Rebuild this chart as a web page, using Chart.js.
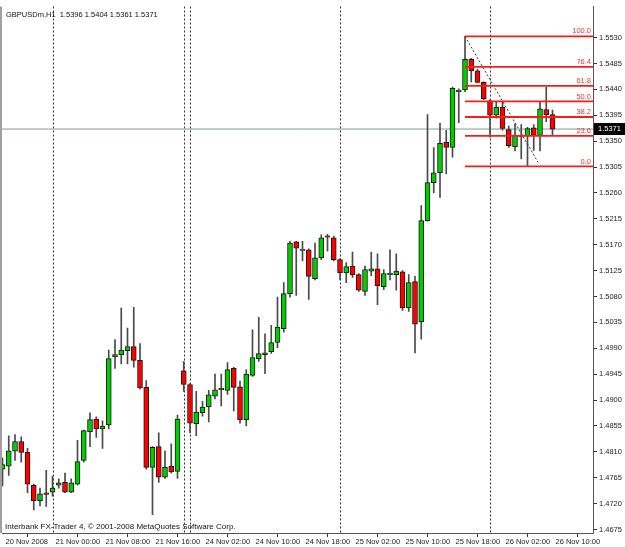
<!DOCTYPE html>
<html><head><meta charset="utf-8">
<script src="https://cdn.jsdelivr.net/npm/chart.js@4.4.0/dist/chart.umd.min.js"></script>
<style>html,body{margin:0;padding:0;background:#fff;overflow:hidden}canvas{display:block}</style>
</head><body>
<canvas id="c" width="625" height="547"></canvas>
<script>
const symbolTitle = 'GBPUSDm,H1  1.5396 1.5404 1.5361 1.5371';
const copyrightText = 'Interbank FX-Trader 4, \u00a9 2001-2008 MetaQuotes Software Corp.';

const opens = [1.4780,1.4785,1.4811,1.4828,1.4809,1.4752,1.4725,1.4737,1.4740,1.4752,
1.4757,1.4740,1.4754,1.4795,1.4845,1.4867,1.4850,1.4857,1.4975,1.4979,
1.4986,1.4993,1.4969,1.4922,1.4783,1.4819,1.4766,1.4785,1.4776,1.4951,
1.4927,1.4859,1.4878,1.4888,1.4907,1.4918,1.4917,1.4955,1.4923,1.4866,
1.4943,1.4972,1.4979,1.4984,1.5000,1.5024,1.5085,1.5175,1.5160,1.5161,
1.5111,1.5147,1.5184,1.5182,1.5144,1.5121,1.5133,1.5118,1.5089,1.5124,
1.5128,1.5097,1.5118,1.5118,1.5123,1.5060,1.5106,1.5036,1.5212,1.5278,
1.5295,1.5348,1.5339,1.5436,1.5439,1.5492,1.5472,1.5452,1.5420,1.5395,
1.5409,1.5370,1.5340,1.5358,1.5359,1.5373,1.5360,1.5405,1.5396];

const highs = [1.4799,1.4838,1.4840,1.4836,1.4816,1.4754,1.4747,1.4778,1.4768,1.4763,
1.4773,1.4763,1.4830,1.4848,1.4878,1.4871,1.4864,1.4987,1.5005,1.5060,
1.5025,1.5061,1.4998,1.4934,1.4819,1.4843,1.4812,1.4824,1.4874,1.4967,
1.4929,1.4915,1.4898,1.4917,1.4945,1.4945,1.4965,1.4957,1.4933,1.4953,
1.5022,1.5044,1.5015,1.5030,1.5079,1.5104,1.5176,1.5176,1.5176,1.5163,
1.5173,1.5187,1.5188,1.5185,1.5146,1.5139,1.5157,1.5120,1.5133,1.5157,
1.5154,1.5127,1.5161,1.5154,1.5125,1.5118,1.5115,1.5238,1.5396,1.5339,
1.5381,1.5369,1.5444,1.5441,1.5532,1.5494,1.5475,1.5453,1.5422,1.5418,
1.5418,1.5376,1.5380,1.5379,1.5374,1.5379,1.5418,1.5444,1.5404];

const lows = [1.4751,1.4769,1.4795,1.4792,1.4739,1.4709,1.4716,1.4715,1.4733,1.4747,
1.4739,1.4739,1.4752,1.4792,1.4819,1.4835,1.4816,1.4850,1.4955,1.4963,
1.4963,1.4957,1.4919,1.4780,1.4701,1.4757,1.4764,1.4773,1.4764,1.4915,
1.4843,1.4838,1.4872,1.4862,1.4902,1.4890,1.4910,1.4881,1.4860,1.4855,
1.4941,1.4967,1.4946,1.4981,1.4991,1.5018,1.5079,1.5082,1.5142,1.5075,
1.5109,1.5144,1.5159,1.5142,1.5109,1.5104,1.5113,1.5089,1.5082,1.5116,
1.5066,1.5092,1.5109,1.5091,1.5056,1.5054,1.4982,1.5006,1.5211,1.5260,
1.5252,1.5293,1.5322,1.5382,1.5436,1.5453,1.5451,1.5422,1.5357,1.5390,
1.5369,1.5339,1.5333,1.5319,1.5306,1.5334,1.5333,1.5384,1.5361];

const closes = [1.4788,1.4812,1.4828,1.4809,1.4754,1.4725,1.4737,1.4736,1.4747,1.4756,
1.4740,1.4756,1.4793,1.4847,1.4866,1.4850,1.4855,1.4972,1.4979,1.4987,
1.4993,1.4969,1.4921,1.4783,1.4818,1.4766,1.4783,1.4775,1.4867,1.4927,
1.4860,1.4879,1.4888,1.4909,1.4918,1.4919,1.4953,1.4922,1.4866,1.4945,
1.4974,1.4981,1.4982,1.5000,1.5027,1.5085,1.5173,1.5164,1.5161,1.5115,
1.5147,1.5182,1.5183,1.5144,1.5121,1.5132,1.5118,1.5091,1.5127,1.5128,
1.5099,1.5120,1.5119,1.5124,1.5060,1.5104,1.5032,1.5212,1.5278,1.5295,
1.5346,1.5339,1.5442,1.5438,1.5492,1.5472,1.5452,1.5424,1.5395,1.5409,
1.5372,1.5342,1.5360,1.5359,1.5372,1.5360,1.5406,1.5396,1.5371];

const xTickBars = [0,8,16,24,32,40,48,56,64,72,80,88];
const xTickLabels = ['20 Nov 2008','21 Nov 00:00','21 Nov 08:00','21 Nov 16:00','24 Nov 02:00','24 Nov 10:00',
  '24 Nov 18:00','25 Nov 02:00','25 Nov 10:00','25 Nov 18:00','26 Nov 02:00','26 Nov 10:00'];
const yTickValues = [1.4675,1.4720,1.4765,1.4810,1.4855,1.4900,1.4945,1.4990,1.5035,1.5080,
  1.5125,1.5170,1.5215,1.5260,1.5305,1.5350,1.5395,1.5440,1.5485,1.5530];
const separatorBars = [8,29,30,54,78];

const fibLabels = ['100.0','76.4','61.8','50.0','38.2','23.6','0.0'];
const fibPrices = [1.5532,1.5479,1.5446,1.5419,1.5392,1.5359,1.5306];
const fibStartBar = 74;
const trendBars = [74, 85.7];
const trendPrices = [1.5532, 1.5313];
const lastPrice = 1.5371;

const X_MIN = -0.08, X_MAX = 94.48;
const Y_MIN = 1.4669, Y_MAX = 1.5584;

Chart.defaults.font.family = "'Liberation Sans', Arial, sans-serif";
Chart.defaults.font.size = 7.5;

const datasets = [];
fibPrices.forEach((p, k) => {
  datasets.push({ type:'line', label:'fib'+fibLabels[k], data:[{x:fibStartBar,y:p},{x:X_MAX,y:p}],
    borderColor:'#ff1a1a', borderWidth:1.8, pointRadius:0, order:0 });
});
datasets.push({ type:'line', label:'trend', data: trendBars.map((b,k)=>({x:b,y:trendPrices[k]})),
  borderColor:'#333', borderWidth:1, borderDash:[2,2], pointRadius:0, order:1 });
datasets.push({ type:'bar', label:'body', data: opens.map((o,i)=>({x:i, y:[o, closes[i]]})),
  backgroundColor: c => (closes[c.dataIndex] >= opens[c.dataIndex] ? '#00cc00' : '#ff0000'),
  borderColor:'#1a1a1a', borderWidth:1, borderSkipped:false, barThickness:5, minBarLength:1.5,
  grouped:false, order:2 });
datasets.push({ type:'bar', label:'wick', data: lows.map((l,i)=>({x:i, y:[l, highs[i]]})),
  backgroundColor:'#4a4a4a', borderWidth:0, barThickness:1, grouped:false, order:3 });
datasets.push({ type:'line', label:'bid', data:[{x:X_MIN,y:lastPrice},{x:X_MAX,y:lastPrice}],
  borderColor:'#7f9b9b', borderWidth:1, pointRadius:0, order:4 });

const decor = {
  id:'decor',
  beforeDatasetsDraw(chart){
    const {ctx, chartArea:a, scales:{x}} = chart;
    ctx.save();
    ctx.fillStyle = '#a0a0a0';
    ctx.fillRect(0, a.top, a.left, a.bottom - a.top);
    ctx.strokeStyle = '#333'; ctx.lineWidth = 1; ctx.setLineDash([2,2]);
    separatorBars.forEach(b => {
      const px = Math.round(x.getPixelForValue(b)) + 0.5;
      ctx.beginPath(); ctx.moveTo(px, a.top); ctx.lineTo(px, a.bottom); ctx.stroke();
    });
    ctx.restore();
  },
  afterDatasetsDraw(chart){
    const {ctx, chartArea:a, scales:{y}} = chart;
    ctx.save();
    ctx.font = "7.5px 'Liberation Sans', Arial, sans-serif";
    ctx.fillStyle = '#ff3030'; ctx.textAlign = 'right'; ctx.textBaseline = 'middle';
    fibPrices.forEach((p,k) => { ctx.fillText(fibLabels[k], a.right - 2, y.getPixelForValue(p) - 5); });
    ctx.fillStyle = '#111'; ctx.textAlign = 'left';
    ctx.font = "7.5px 'Liberation Sans', Arial, sans-serif";
    ctx.fillText(symbolTitle, a.left + 4, a.top + 8);
    ctx.font = "8px 'Liberation Sans', Arial, sans-serif";
    ctx.fillText(copyrightText, a.left + 3, a.bottom - 6);
    ctx.restore();
  },
  afterDraw(chart){
    const {ctx, chartArea:a, scales:{y}} = chart;
    const py = Math.round(y.getPixelForValue(lastPrice));
    ctx.save();
    ctx.fillStyle = '#000';
    ctx.fillRect(a.right + 1, py - 6, chart.width - a.right - 1, 12);
    ctx.fillStyle = '#fff'; ctx.textAlign = 'left'; ctx.textBaseline = 'middle';
    ctx.font = "7.5px 'Liberation Sans', Arial, sans-serif";
    ctx.fillText(lastPrice.toFixed(4), a.right + 5, py);
    ctx.restore();
  }
};

new Chart(document.getElementById('c'), {
  type:'bar',
  data:{ datasets },
  options:{
    responsive:false, animation:false, devicePixelRatio:1,
    layout:{ padding:{left:2, top:0, right:0, bottom:0} },
    plugins:{ legend:{display:false}, tooltip:{enabled:false}, title:{display:false} },
    scales:{
      x:{ type:'linear', min:X_MIN, max:X_MAX, offset:false, bounds:'data',
        afterBuildTicks: s => { s.ticks = xTickBars.map(v => ({value:v})); },
        afterFit: s => { s.height = 14; },
        grid:{ drawOnChartArea:false, drawTicks:true, tickLength:4, color:'#333' },
        border:{ display:true, color:'#555', width:1 },
        ticks:{ autoSkip:false, maxRotation:0, minRotation:0, align:'start', labelOffset:3, padding:0,
          color:'#222', font:{size:7.5}, callback:(v,i) => xTickLabels[i] } },
      y:{ type:'linear', position:'right', min:Y_MIN, max:Y_MAX, bounds:'data',
        afterBuildTicks: s => { s.ticks = yTickValues.map(v => ({value:v})); },
        afterFit: s => { s.width = 32; },
        grid:{ drawOnChartArea:false, tickLength:4, color:'#333' },
        border:{ display:true, color:'#555', width:1 },
        ticks:{ padding:2, crossAlign:'near', color:'#222', font:{size:7.5}, callback: v => Number(v).toFixed(4) } }
    }
  },
  plugins:[decor]
});
</script>
</body></html>
